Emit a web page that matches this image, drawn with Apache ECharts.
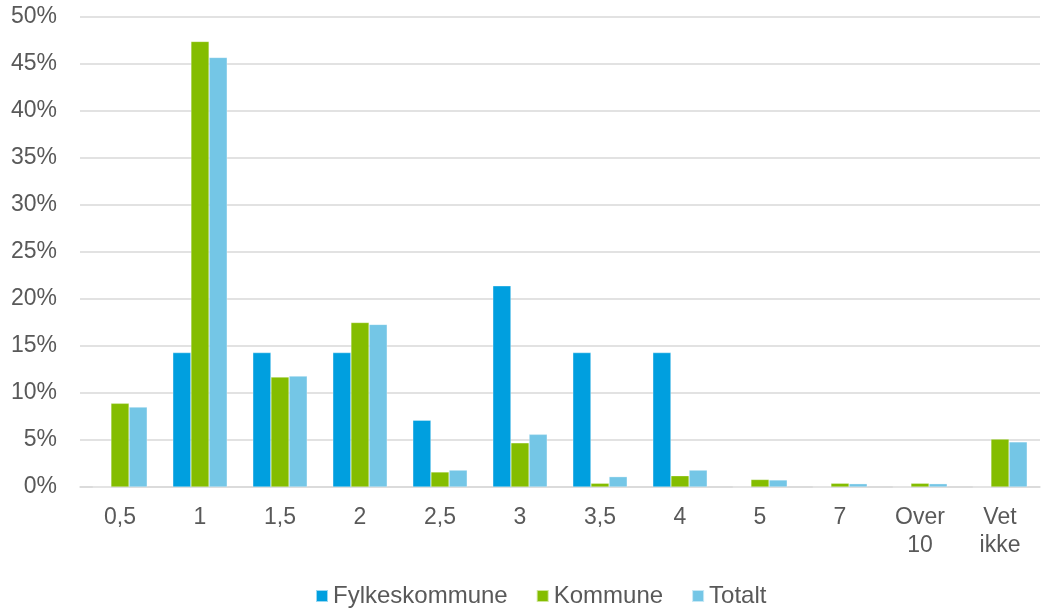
<!DOCTYPE html>
<html>
<head>
<meta charset="utf-8">
<script src="https://cdn.jsdelivr.net/npm/echarts@6/dist/echarts.min.js"></script>
<style>
  html, body { margin: 0; padding: 0; background: #fff; }
  #chart { width: 1044px; height: 608px; }
</style>
</head>
<body>
<div id="chart"></div>
<script>
// categories on the x axis
const categories = ['0,5', '1', '1,5', '2', '2,5', '3', '3,5', '4', '5', '7', 'Over\n10', 'Vet\nikke'];

// percentages
const fylkeskommune = [0, 14.3, 14.3, 14.3, 7.1, 21.4, 14.3, 14.3, 0, 0, 0, 0];
const kommune = [8.9, 47.4, 11.7, 17.5, 1.6, 4.7, 0.4, 1.2, 0.8, 0.4, 0.4, 5.1];
const totalt = [8.5, 45.7, 11.8, 17.3, 1.8, 5.6, 1.1, 1.8, 0.75, 0.35, 0.35, 4.8];

const chart = echarts.init(document.getElementById('chart'));

const font = 'Liberation Sans, Arial, sans-serif';
const textColor = '#595959';

const barStyle = (color) => ({
    color: color,
    borderColor: 'rgba(255,255,255,0.6)',
    borderWidth: 0.5
});

const options = {
    animation: false,
    grid: {
        left: 80,
        right: 4,
        top: 17,
        bottom: 121
    },
    legend: {
        top: 584,
        left: 315,
        padding: 0,
        itemWidth: 12,
        itemHeight: 12,
        itemGap: 28,
        icon: 'rect',
        textStyle: {
            fontFamily: font,
            fontSize: 24,
            color: textColor
        }
    },
    xAxis: {
        type: 'category',
        data: categories,
        axisTick: {show: false},
        axisLine: {
            lineStyle: {color: '#D9D9D9', width: 1.5}
        },
        axisLabel: {
            fontFamily: font,
            fontSize: 23,
            color: textColor,
            margin: 17,
            lineHeight: 28,
            interval: 0
        }
    },
    yAxis: {
        type: 'value',
        min: 0,
        max: 50,
        interval: 5,
        axisLine: {show: false},
        axisTick: {show: false},
        splitLine: {
            lineStyle: {color: '#D9D9D9', width: 1.5}
        },
        axisLabel: {
            formatter: '{value}%',
            fontFamily: font,
            fontSize: 23,
            color: textColor,
            margin: 23
        }
    },
    series: [
        {
            name: 'Fylkeskommune',
            type: 'bar',
            data: fylkeskommune,
            barGap: '0%',
            barCategoryGap: '32%',
            itemStyle: barStyle('#009FDF')
        },
        {
            name: 'Kommune',
            type: 'bar',
            data: kommune,
            itemStyle: barStyle('#84BD00')
        },
        {
            name: 'Totalt',
            type: 'bar',
            data: totalt,
            itemStyle: barStyle('#74C6E6')
        }
    ]
};

chart.setOption(options);
</script>
</body>
</html>
